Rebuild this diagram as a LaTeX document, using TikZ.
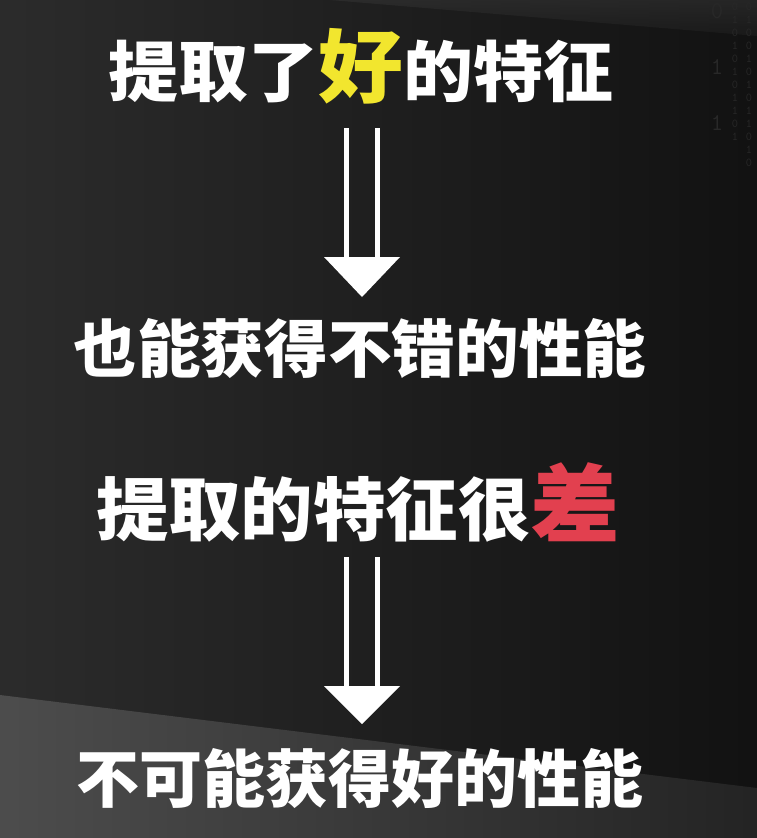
\documentclass[tikz,border=0pt]{standalone}
\usepackage{fontspec}
\newfontfamily\cjk{Noto Sans CJK SC}
\definecolor{goodyellow}{HTML}{F2E62E}
\definecolor{badred}{HTML}{E2404F}
\definecolor{digitgray}{HTML}{282828}
\tikzset{
  headline/.style={text=white, inner sep=0pt, font=\cjk\bfseries},
  shaft/.style={draw=white, line width=5pt},
  arrowhead/.style={fill=white},
  digits/.style={text=digitgray, inner sep=0pt, font=\ttfamily, align=center}
}
\begin{document}
\begin{tikzpicture}[x=1pt,y=-1pt]
\useasboundingbox (0,0) rectangle (757,838);
% background
\shade[left color=black!83, right color=black!93] (0,0) rectangle (757,838);
\shade[top color=black!80, bottom color=black!88, opacity=0.6] (330,0) -- (757,0) -- (757,36) -- cycle;
\shade[left color=black!70, right color=black!86] (0,695) -- (757,788) -- (757,838) -- (0,838) -- cycle;
% faint digits
\node[digits, font=\ttfamily\fontsize{24}{28}\selectfont, anchor=north] (dg1) at (717,3) {0\\ \\1\\ \\1};
\node[digits, font=\ttfamily\fontsize{12}{13}\selectfont, anchor=north] (dg2) at (735,3) {0\\1\\0\\1\\0\\1\\0\\1\\1\\0\\1};
\node[digits, font=\ttfamily\fontsize{12}{13}\selectfont, anchor=north] (dg3) at (749,3) {0\\1\\0\\0\\1\\0\\1\\0\\1\\1\\0\\1\\0};
% texts
\node[headline, xscale=1.06, anchor=base] (t1) at (361,96)
  {\fontsize{66}{66}\selectfont 提取了{\fontsize{80}{80}\selectfont\color{goodyellow}好}的特征};
\node[headline, xscale=1.01, anchor=base] (t2) at (360,372)
  {\fontsize{63}{63}\selectfont 也能获得不错的性能};
\node[headline, xscale=1.05, anchor=base] (t3) at (358,535)
  {\fontsize{69}{69}\selectfont 提取的特征很{\fontsize{85}{85}\selectfont\color{badred}差}};
\node[headline, xscale=1.0, anchor=base] (t4) at (360,802)
  {\fontsize{63}{63}\selectfont 不可能获得好的性能};
% arrow 1
\coordinate (a1s) at (362,128);
\coordinate (a1h) at (362,257);
\coordinate (a1e) at (362,297);
\draw[shaft] ([xshift=-15.5pt]a1s) -- ([xshift=-15.5pt]a1h);
\draw[shaft] ([xshift=15.5pt]a1s) -- ([xshift=15.5pt]a1h);
\fill[arrowhead] ([xshift=-38pt]a1h) -- ([xshift=38pt]a1h) -- (a1e) -- cycle;
% arrow 2
\coordinate (a2s) at (362,557);
\coordinate (a2h) at (362,686);
\coordinate (a2e) at (362,724);
\draw[shaft] ([xshift=-15.5pt]a2s) -- ([xshift=-15.5pt]a2h);
\draw[shaft] ([xshift=15.5pt]a2s) -- ([xshift=15.5pt]a2h);
\fill[arrowhead] ([xshift=-38pt]a2h) -- ([xshift=38pt]a2h) -- (a2e) -- cycle;
\end{tikzpicture}
\end{document}
